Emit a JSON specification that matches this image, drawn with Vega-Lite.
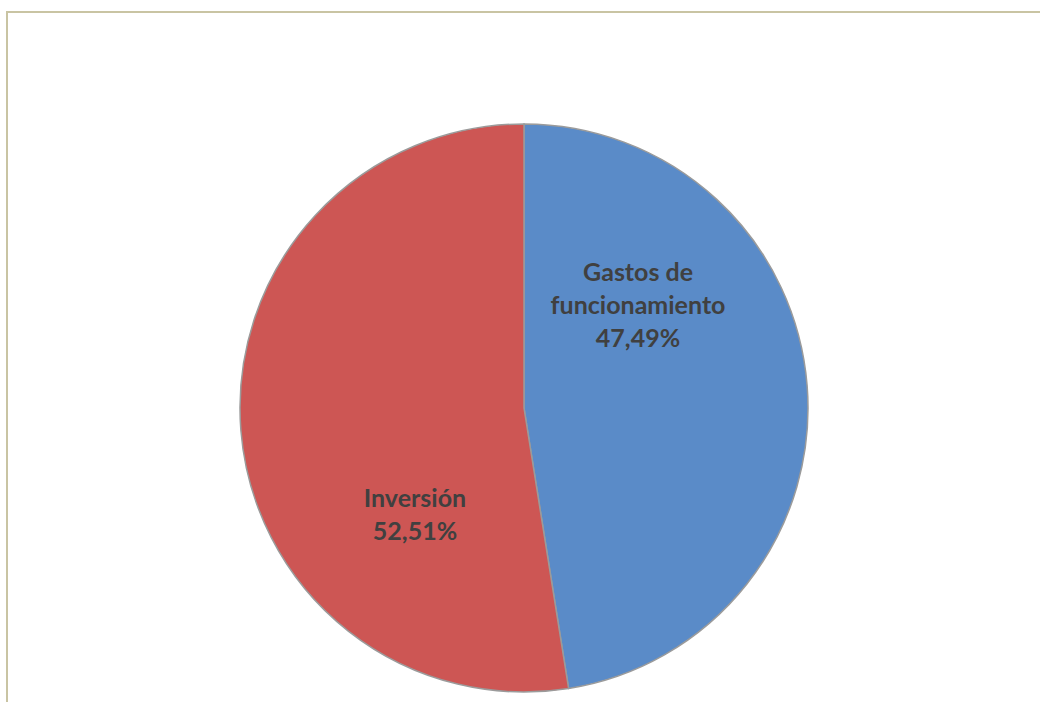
{
  "$schema": "https://vega.github.io/schema/vega-lite/v6.json",
  "width": 1034,
  "height": 792,
  "autosize": {"type": "none"},
  "padding": {"left": 7, "top": 12, "right": -1, "bottom": -102},
  "background": "#ffffff",
  "view": {"stroke": "#c9c4a3", "strokeWidth": 2, "fill": null},
  "config": {"view": {"stroke": "#c9c4a3", "strokeWidth": 2}},
  "data": {
    "values": [
      {"categoria": "Gastos de funcionamiento", "valor": 47.49, "orden": 1},
      {"categoria": "Inversión", "valor": 52.51, "orden": 2}
    ]
  },
  "encoding": {
    "theta": {"field": "valor", "type": "quantitative", "stack": true},
    "order": {"field": "orden", "type": "quantitative"}
  },
  "layer": [
    {
      "mark": {"type": "arc", "outerRadius": 284, "stroke": "#9b9b9b", "strokeWidth": 1.5},
      "encoding": {
        "color": {
          "field": "categoria",
          "type": "nominal",
          "scale": {"domain": ["Gastos de funcionamiento", "Inversión"], "range": ["#5a8bc8", "#cd5654"]},
          "legend": null
        }
      }
    },
    {
      "transform": [
        {"calculate": "replace(datum.categoria, 'Gastos de ', 'Gastos de\\n') + '\\n' + replace(format(datum.valor, '.2f'), '.', ',') + '%'", "as": "etiqueta"}
      ],
      "mark": {
        "type": "text",
        "radius": 153,
        "thetaOffset": -0.675,
        "font": "Lato",
        "fontWeight": "bold",
        "fontSize": 25,
        "lineHeight": 33,
        "lineBreak": "\n",
        "align": "center",
        "baseline": "middle",
        "dx": 2.5,
        "dy": -30,
        "color": "#404040"
      },
      "encoding": {
        "detail": {"field": "categoria", "type": "nominal"},
        "text": {"field": "etiqueta", "type": "nominal"},
        "opacity": {"condition": {"test": "datum.categoria === 'Inversión'", "value": 0}, "value": 1}
      }
    },
    {
      "transform": [
        {"calculate": "replace(datum.categoria, 'Gastos de ', 'Gastos de\\n') + '\\n' + replace(format(datum.valor, '.2f'), '.', ',') + '%'", "as": "etiqueta"}
      ],
      "mark": {
        "type": "text",
        "radius": 153,
        "thetaOffset": -0.675,
        "font": "Lato",
        "fontWeight": "bold",
        "fontSize": 25,
        "lineHeight": 33,
        "lineBreak": "\n",
        "align": "center",
        "baseline": "middle",
        "dx": 2.5,
        "dy": -13.5,
        "color": "#404040"
      },
      "encoding": {
        "detail": {"field": "categoria", "type": "nominal"},
        "text": {"field": "etiqueta", "type": "nominal"},
        "opacity": {"condition": {"test": "datum.categoria === 'Inversión'", "value": 1}, "value": 0}
      }
    }
  ]
}
